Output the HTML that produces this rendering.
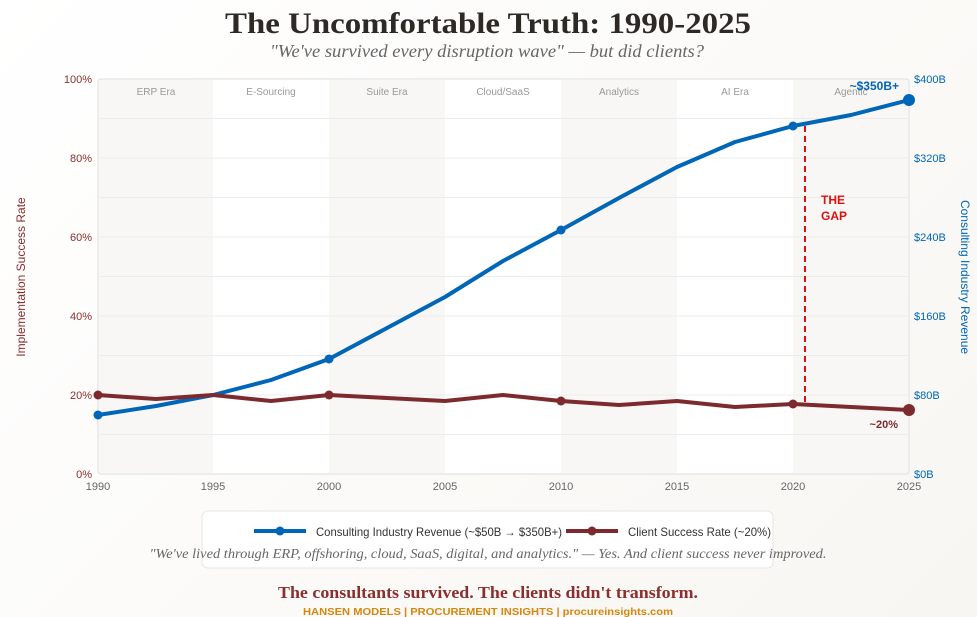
<!DOCTYPE html>
<html><head><meta charset="utf-8"><style>
html,body{margin:0;padding:0;}
body{width:977px;height:617px;background:linear-gradient(135deg,#ffffff 0%,#f8f6f2 100%);font-family:"Liberation Sans",sans-serif;position:relative;overflow:hidden;}
</style></head><body>
<svg width="977" height="617" style="position:absolute;left:0;top:0" font-family="Liberation Sans, sans-serif">
<text x="488" y="33" text-anchor="middle" font-family="Liberation Serif, serif" font-weight="bold" font-size="30" fill="#2d2a26" textLength="526" lengthAdjust="spacingAndGlyphs">The Uncomfortable Truth: 1990-2025</text>
<text x="487" y="57" text-anchor="middle" font-family="Liberation Serif, serif" font-style="italic" font-size="18" fill="#666" textLength="434" lengthAdjust="spacingAndGlyphs">"We've survived every disruption wave" — but did clients?</text>
<rect x="98" y="79" width="811" height="395" fill="#fff" stroke="#ddd" rx="3"/>
<g fill="#f8f7f5">
<rect x="99" y="80" width="114" height="393"/><rect x="329" y="80" width="116" height="393"/><rect x="561" y="80" width="116" height="393"/><rect x="793" y="80" width="115" height="393"/>
</g>
<g stroke="#ececec" stroke-width="1">
<line x1="98" x2="909" y1="118.5" y2="118.5"/><line x1="98" x2="909" y1="158" y2="158"/><line x1="98" x2="909" y1="197.5" y2="197.5"/><line x1="98" x2="909" y1="237" y2="237"/><line x1="98" x2="909" y1="276.5" y2="276.5"/><line x1="98" x2="909" y1="316" y2="316"/><line x1="98" x2="909" y1="355.5" y2="355.5"/><line x1="98" x2="909" y1="395" y2="395"/><line x1="98" x2="909" y1="434.5" y2="434.5"/>
</g>
<g font-size="10" fill="#999" text-anchor="middle">
<text x="156" y="95">ERP Era</text><text x="271" y="95">E-Sourcing</text><text x="387" y="95">Suite Era</text><text x="503" y="95">Cloud/SaaS</text><text x="619" y="95">Analytics</text><text x="735" y="95">AI Era</text><text x="851" y="95">Agentic</text>
</g>
<g font-size="11" fill="#8b2e2e" text-anchor="end">
<text x="92" y="83">100%</text><text x="92" y="162">80%</text><text x="92" y="241">60%</text><text x="92" y="320">40%</text><text x="92" y="399">20%</text><text x="92" y="478">0%</text>
</g>
<g font-size="11" fill="#0066b8">
<text x="914" y="83">$400B</text><text x="914" y="162">$320B</text><text x="914" y="241">$240B</text><text x="914" y="320">$160B</text><text x="914" y="399">$80B</text><text x="914" y="478">$0B</text>
</g>
<g font-size="11" fill="#666" text-anchor="middle">
<text x="98" y="490">1990</text><text x="213" y="490">1995</text><text x="329" y="490">2000</text><text x="445" y="490">2005</text><text x="561" y="490">2010</text><text x="677" y="490">2015</text><text x="793" y="490">2020</text><text x="909" y="490">2025</text>
</g>
<text transform="translate(25,277) rotate(-90)" text-anchor="middle" font-size="12" fill="#8b2e2e">Implementation Success Rate</text>
<text transform="translate(961,277) rotate(90)" text-anchor="middle" font-size="12" fill="#0066b8">Consulting Industry Revenue</text>
<line x1="805" y1="126" x2="805" y2="404" stroke="#dd1111" stroke-width="2" stroke-dasharray="6,4"/>
<text x="821" y="204" font-size="12" font-weight="bold" fill="#dd1111">THE</text>
<text x="821" y="220" font-size="12" font-weight="bold" fill="#dd1111">GAP</text>
<polyline fill="none" stroke="#0066b8" stroke-width="4" stroke-linejoin="round" points="98,415 156,406 213,395 271,380 329,359 387,328 445,297 503,261 561,230 619,198 677,167 735,142 793,126 851,115 909,100"/>
<g fill="#0066b8"><circle cx="98" cy="415" r="4.5"/><circle cx="329" cy="359" r="4.5"/><circle cx="561" cy="230" r="4.5"/><circle cx="793" cy="126" r="4.5"/><circle cx="909" cy="100" r="6"/></g>
<polyline fill="none" stroke="#7d2a2f" stroke-width="4" stroke-linejoin="round" points="98,395 156,399 213,395 271,401 329,395 387,398 445,401 503,395 561,401 619,405 677,401 735,407 793,404 851,407 909,410"/>
<g fill="#7d2a2f"><circle cx="98" cy="395" r="4.5"/><circle cx="329" cy="395" r="4.5"/><circle cx="561" cy="401" r="4.5"/><circle cx="793" cy="404" r="4.5"/><circle cx="909" cy="410" r="6"/></g>
<text x="899" y="90" text-anchor="end" font-size="12" font-weight="bold" fill="#0066b8">~$350B+</text>
<text x="898" y="428" text-anchor="end" font-size="11" font-weight="bold" fill="#7d2a2f">~20%</text>
<rect x="202" y="511" width="571" height="57" rx="6" fill="#fff" stroke="#e6e6e6"/>
<line x1="254" y1="531" x2="306" y2="531" stroke="#0066b8" stroke-width="4"/><circle cx="280" cy="531" r="4.5" fill="#0066b8"/>
<text x="316" y="536" font-size="12" fill="#333" textLength="246" lengthAdjust="spacingAndGlyphs">Consulting Industry Revenue (~$50B → $350B+)</text>
<line x1="566" y1="531" x2="618" y2="531" stroke="#7d2a2f" stroke-width="4"/><circle cx="592" cy="531" r="4.5" fill="#7d2a2f"/>
<text x="628" y="536" font-size="12" fill="#333" textLength="143" lengthAdjust="spacingAndGlyphs">Client Success Rate (~20%)</text>
<text x="488" y="558" text-anchor="middle" font-family="Liberation Serif, serif" font-style="italic" font-size="14" fill="#666" textLength="677" lengthAdjust="spacingAndGlyphs">"We've lived through ERP, offshoring, cloud, SaaS, digital, and analytics." — Yes. And client success never improved.</text>
<text x="488" y="598" text-anchor="middle" font-family="Liberation Serif, serif" font-weight="bold" font-size="17" fill="#8b2e2e" textLength="420" lengthAdjust="spacingAndGlyphs">The consultants survived. The clients didn't transform.</text>
<text x="488" y="615" text-anchor="middle" font-weight="bold" font-size="10" fill="#d4880f" textLength="370" lengthAdjust="spacingAndGlyphs">HANSEN MODELS | PROCUREMENT INSIGHTS | procureinsights.com</text>
</svg>
</body></html>
